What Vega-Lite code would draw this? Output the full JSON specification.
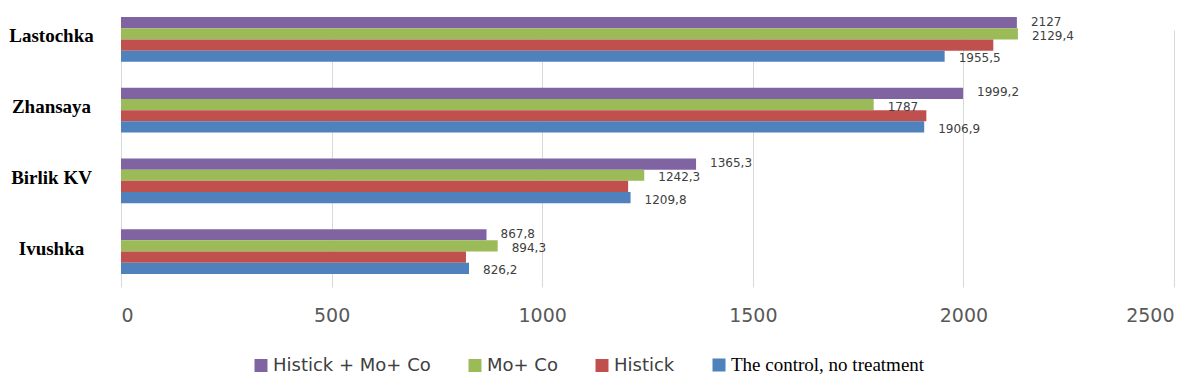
{
  "$schema": "https://vega.github.io/schema/vega-lite/v6.json",
  "autosize": "none",
  "width": 1053,
  "height": 280,
  "padding": {"left": 121, "top": 12, "right": 26, "bottom": 94},
  "background": "white",
  "config": {"view": {"stroke": null}},
  "data": {
    "values": [
      {"variety": "Lastochka", "series": "Histick + Mo+ Co", "value": 2127, "label": "2127"},
      {"variety": "Lastochka", "series": "Mo+ Co", "value": 2129.4, "label": "2129,4"},
      {"variety": "Lastochka", "series": "Histick", "value": 2071, "label": ""},
      {"variety": "Lastochka", "series": "The control, no treatment", "value": 1955.5, "label": "1955,5"},
      {"variety": "Zhansaya", "series": "Histick + Mo+ Co", "value": 1999.2, "label": "1999,2"},
      {"variety": "Zhansaya", "series": "Mo+ Co", "value": 1787, "label": "1787"},
      {"variety": "Zhansaya", "series": "Histick", "value": 1912, "label": ""},
      {"variety": "Zhansaya", "series": "The control, no treatment", "value": 1906.9, "label": "1906,9"},
      {"variety": "Birlik  KV", "series": "Histick + Mo+ Co", "value": 1365.3, "label": "1365,3"},
      {"variety": "Birlik  KV", "series": "Mo+ Co", "value": 1242.3, "label": "1242,3"},
      {"variety": "Birlik  KV", "series": "Histick", "value": 1204, "label": ""},
      {"variety": "Birlik  KV", "series": "The control, no treatment", "value": 1209.8, "label": "1209,8"},
      {"variety": "Ivushka", "series": "Histick + Mo+ Co", "value": 867.8, "label": "867,8"},
      {"variety": "Ivushka", "series": "Mo+ Co", "value": 894.3, "label": "894,3"},
      {"variety": "Ivushka", "series": "Histick", "value": 819, "label": ""},
      {"variety": "Ivushka", "series": "The control, no treatment", "value": 826.2, "label": "826,2"}
    ]
  },
  "encoding": {
    "y": {
      "field": "variety",
      "type": "nominal",
      "sort": ["Lastochka", "Zhansaya", "Birlik  KV", "Ivushka"],
      "scale": {"range": [5, 262], "paddingInner": 0.366, "paddingOuter": 0},
      "axis": {
        "title": null,
        "domain": false,
        "ticks": false,
        "labelAlign": "center",
        "labelPadding": 70,
        "labelOffset": -3,
        "labelFont": "Liberation Serif",
        "labelFontWeight": "bold",
        "labelFontSize": 19,
        "labelColor": "#000000"
      }
    },
    "yOffset": {
      "field": "series",
      "type": "nominal",
      "sort": ["Histick + Mo+ Co", "Mo+ Co", "Histick", "The control, no treatment"]
    },
    "x": {
      "field": "value",
      "type": "quantitative",
      "scale": {"domain": [0, 2500], "nice": false},
      "axis": {
        "title": null,
        "values": [0, 500, 1000, 1500, 2000, 2500],
        "format": "d",
        "domain": false,
        "ticks": false,
        "grid": true,
        "gridColor": "#d9d9d9",
        "labelPadding": 14,
        "labelFont": "DejaVu Sans",
        "labelFontSize": 19,
        "labelColor": "#595959"
      }
    }
  },
  "layer": [
    {
      "mark": {"type": "bar"},
      "encoding": {
        "color": {
          "field": "series",
          "type": "nominal",
          "sort": ["Histick + Mo+ Co", "Mo+ Co", "Histick", "The control, no treatment"],
          "scale": {
            "domain": ["Histick + Mo+ Co", "Mo+ Co", "Histick", "The control, no treatment"],
            "range": ["#8064A2", "#9BBB59", "#C0504D", "#4F81BD"]
          },
          "legend": {
            "title": null,
            "orient": "none",
            "direction": "horizontal",
            "legendX": 131,
            "legendY": 344,
            "symbolType": "square",
            "symbolSize": 169,
            "symbolStrokeWidth": 0,
            "labelFont": "DejaVu Sans",
            "labelFontSize": 18,
            "labelColor": "#404040",
            "labelLimit": 0,
            "columnPadding": 35,
            "labelOffset": 3,
            "encode": {
              "labels": {
                "update": {
                  "font": {"signal": "datum.label === 'The control, no treatment' ? 'Liberation Serif' : 'DejaVu Sans'"},
                  "fontSize": {"signal": "datum.label === 'The control, no treatment' ? 19 : 18"},
                  "fill": {"signal": "datum.label === 'The control, no treatment' ? '#000000' : '#404040'"}
                }
              }
            }
          }
        }
      }
    },
    {
      "transform": [{"filter": "datum.series === 'Histick + Mo+ Co'"}],
      "mark": {
        "type": "text",
        "align": "left",
        "baseline": "middle",
        "dx": 14,
        "dy": -1,
        "font": "DejaVu Sans",
        "fontSize": 12,
        "color": "#404040"
      },
      "encoding": {
        "text": {"field": "label", "type": "nominal"}
      }
    },
    {
      "transform": [{"filter": "datum.series !== 'Histick + Mo+ Co'"}],
      "mark": {
        "type": "text",
        "align": "left",
        "baseline": "middle",
        "dx": 14,
        "dy": 2,
        "font": "DejaVu Sans",
        "fontSize": 12,
        "color": "#404040"
      },
      "encoding": {
        "text": {"field": "label", "type": "nominal"}
      }
    }
  ]
}
